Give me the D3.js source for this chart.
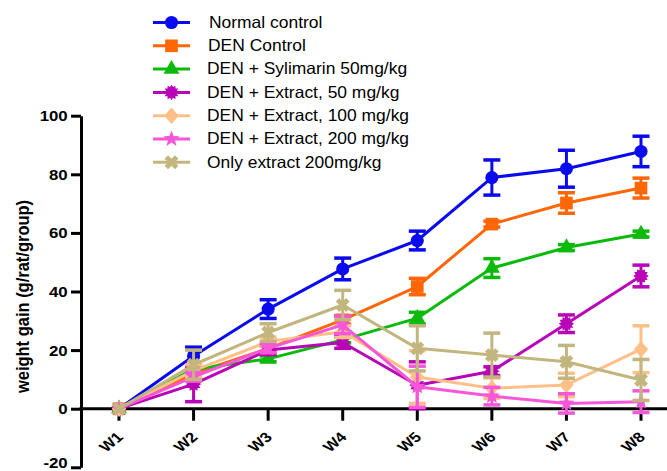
<!DOCTYPE html>
<html>
<head>
<meta charset="utf-8">
<script src="https://cdn.jsdelivr.net/npm/d3@7"></script>
<style>
  html, body { margin: 0; padding: 0; background: #fff; }
  svg { display: block; }
</style>
</head>
<body>
<svg id="chart" width="667" height="471"></svg>
<script>
// Weekly weight gain per treatment group (mean ± error)
const weeks = ["W1", "W2", "W3", "W4", "W5", "W6", "W7", "W8"];
const yTicks = [-20, 0, 20, 40, 60, 80, 100];

const seriesNames = [
  "Normal control",
  "DEN Control",
  "DEN + Sylimarin 50mg/kg",
  "DEN + Extract, 50 mg/kg",
  "DEN + Extract, 100 mg/kg",
  "DEN + Extract, 200 mg/kg",
  "Only extract 200mg/kg"
];

const normalControl    = [0, 18.0, 34.0, 47.7, 57.4, 78.9, 81.9, 87.8];
const normalControlErr = [0, 3.0, 3.2, 3.7, 3.2, 6.0, 6.3, 5.2];

const denControl    = [0, 12.0, 20.5, 30.3, 41.7, 63.0, 70.2, 75.3];
const denControlErr = [0, 1.0, 1.0, 1.5, 2.8, 1.0, 3.5, 3.4];

const sylimarin50    = [0, 13.5, 17.0, 23.5, 30.9, 48.0, 55.0, 59.6];
const sylimarin50Err = [0, 1.0, 1.0, 1.0, 2.0, 3.2, 1.0, 1.0];

const extract50    = [0, 8.4, 20.0, 22.6, 8.0, 12.8, 29.0, 45.3];
const extract50Err = [0, 6.0, 1.5, 2.0, 8.0, 1.5, 3.0, 3.7];

const extract100    = [0, 13.0, 22.9, 26.3, 10.8, 7.0, 8.1, 20.3];
const extract100Err = [0, 2.0, 1.5, 2.0, 9.0, 3.5, 4.0, 8.0];

const extract200    = [0, 10.9, 20.6, 28.6, 7.5, 4.3, 1.8, 2.4];
const extract200Err = [0, 1.5, 1.5, 3.0, 7.0, 3.0, 3.3, 3.7];

const onlyExtract    = [0, 15.0, 26.0, 35.4, 20.6, 18.3, 16.0, 9.8];
const onlyExtractErr = [0, 5.0, 3.0, 5.0, 7.7, 7.5, 5.6, 7.0];

const seriesValues = [normalControl, denControl, sylimarin50, extract50, extract100, extract200, onlyExtract];
const seriesErrors = [normalControlErr, denControlErr, sylimarin50Err, extract50Err, extract100Err, extract200Err, onlyExtractErr];

// Appearance
const colors = ["#0a0aee", "#ff6606", "#0cba0c", "#b705b7", "#ffc088", "#f657d8", "#c2b67e"];
const shapes = ["circle", "square", "triangle", "burst", "diamond", "star", "cross"];

const svg = d3.select("#chart");

const x = d3.scalePoint().domain(weeks).range([119, 641]);
const y = d3.scaleLinear().domain([-20, 100]).range([467.3, 115.7]);
const axisX = 81;

// Marker path generators
function starPath(points, rOuter, rInner) {
  const pts = [];
  for (let i = 0; i < points * 2; i++) {
    const r = i % 2 === 0 ? rOuter : rInner;
    const a = Math.PI * i / points;
    pts.push([r * Math.sin(a), -r * Math.cos(a)]);
  }
  return "M" + pts.map(p => p[0].toFixed(2) + "," + p[1].toFixed(2)).join("L") + "Z";
}
function markerPath(shape) {
  switch (shape) {
    case "circle":   return d3.symbol(d3.symbolCircle, 135)();
    case "square":   return d3.symbol(d3.symbolSquare, 160)();
    case "triangle": return d3.symbol(d3.symbolTriangle, 110)();
    case "diamond":  return "M0,-8.2L7.2,0L0,8.2L-7.2,0Z";
    case "star":     return starPath(5, 8.5, 3.6);
    case "burst":    return starPath(12, 7.8, 5.6);
    case "cross":    return d3.symbol(d3.symbolCross, 120)();
  }
}
function markerTransform(shape) {
  return shape === "cross" ? " rotate(45)" : "";
}

// Y axis
const gy = svg.append("g")
  .attr("transform", `translate(${axisX},0)`)
  .call(d3.axisLeft(y).tickValues(yTicks).tickFormat(d => String(d))
    .tickSize(10).tickSizeOuter(0).tickPadding(3));
gy.select(".domain").attr("stroke", "#000").attr("stroke-width", 3);
gy.selectAll(".tick line").attr("stroke", "#000").attr("stroke-width", 3);
// the lowest label sits on the bottom edge, so it is lifted a little to stay inside
gy.selectAll(".tick text")
  .attr("x", null)
  .attr("dy", null)
  .attr("dominant-baseline", "central")
  .attr("transform", d => `translate(-13.3,${d < 0 ? -4.5 : 0}) scale(1.2,1)`)
  .attr("font-family", "'Liberation Sans', Arial, sans-serif")
  .attr("font-weight", "bold")
  .attr("font-size", 14)
  .attr("fill", "#000");

// X axis line and ticks
const y0 = y(0);
svg.append("line")
  .attr("x1", axisX - 1.5).attr("x2", 667)
  .attr("y1", y0).attr("y2", y0)
  .attr("stroke", "#000").attr("stroke-width", 3);

const gx = svg.append("g");
gx.selectAll("line.xt").data(weeks).join("line")
  .attr("class", "xt")
  .attr("x1", d => x(d)).attr("x2", d => x(d))
  .attr("y1", y0).attr("y2", y0 + 12)
  .attr("stroke", "#000").attr("stroke-width", 3);
gx.selectAll("text").data(weeks).join("text")
  .attr("transform", d => `translate(${x(d) + 5},438) scale(1.2,1) rotate(-45)`)
  .attr("text-anchor", "end")
  .attr("font-family", "'Liberation Sans', Arial, sans-serif")
  .attr("font-weight", "bold")
  .attr("font-size", 14)
  .attr("fill", "#000")
  .text(d => d);

// Y axis title
svg.append("text")
  .attr("transform", "translate(22.5,296.5) scale(1.12,1) rotate(-90)")
  .attr("text-anchor", "middle")
  .attr("dominant-baseline", "central")
  .attr("font-family", "'Liberation Sans', Arial, sans-serif")
  .attr("font-weight", "bold")
  .attr("font-size", 16.5)
  .attr("fill", "#000")
  .text("weight gain (g/rat/group)");

// Series: line, error bars, markers (later series drawn on top)
const line = d3.line().x((d, i) => x(weeks[i])).y(d => y(d));
const capHalf = 8.5;

seriesValues.forEach((vals, s) => {
  const g = svg.append("g");
  const col = colors[s];
  const errs = seriesErrors[s];

  g.append("path")
    .attr("d", line(vals))
    .attr("fill", "none")
    .attr("stroke", col)
    .attr("stroke-width", 3)
    .attr("stroke-linejoin", "round");

  const pts = vals.map((v, i) => ({ wk: weeks[i], v, e: errs[i] })).filter(p => p.e > 0);
  const eb = g.selectAll("g.eb").data(pts).join("g").attr("class", "eb");
  eb.append("line")
    .attr("x1", d => x(d.wk)).attr("x2", d => x(d.wk))
    .attr("y1", d => y(d.v - d.e)).attr("y2", d => y(d.v + d.e))
    .attr("stroke", col).attr("stroke-width", 3);
  eb.append("line")
    .attr("x1", d => x(d.wk) - capHalf).attr("x2", d => x(d.wk) + capHalf)
    .attr("y1", d => y(d.v + d.e)).attr("y2", d => y(d.v + d.e))
    .attr("stroke", col).attr("stroke-width", 3.5);
  eb.append("line")
    .attr("x1", d => x(d.wk) - capHalf).attr("x2", d => x(d.wk) + capHalf)
    .attr("y1", d => y(d.v - d.e)).attr("y2", d => y(d.v - d.e))
    .attr("stroke", col).attr("stroke-width", 3.5);

  g.selectAll("path.mk").data(vals).join("path")
    .attr("class", "mk")
    .attr("d", markerPath(shapes[s]))
    .attr("transform", (d, i) => `translate(${x(weeks[i])},${y(d)})` + markerTransform(shapes[s]))
    .attr("fill", col);
});

// Legend
const legY0 = 22.5, legStep = 23.3;
const leg = svg.append("g");
seriesNames.forEach((name, s) => {
  const ly = legY0 + s * legStep;
  leg.append("line")
    .attr("x1", 153).attr("x2", 190)
    .attr("y1", ly).attr("y2", ly)
    .attr("stroke", colors[s]).attr("stroke-width", 3);
  leg.append("path")
    .attr("d", markerPath(shapes[s]))
    .attr("transform", `translate(171.5,${ly})` + markerTransform(shapes[s]))
    .attr("fill", colors[s]);
  leg.append("text")
    .attr("transform", `translate(${s === 0 ? 209 : (s === 1 ? 208 : 207)},${ly}) scale(1.07,1)`)
    .attr("dominant-baseline", "central")
    .attr("font-family", "'Liberation Sans', Arial, sans-serif")
    .attr("font-size", 16.3)
    .attr("fill", "#000")
    .text(name);
});
</script>
</body>
</html>
